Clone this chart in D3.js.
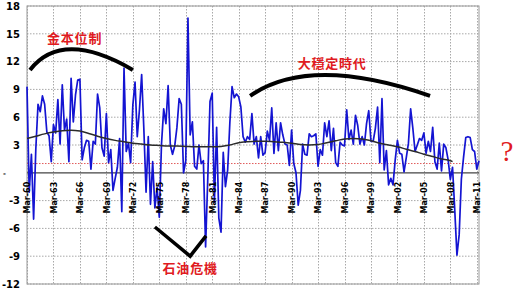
<!DOCTYPE html>
<html lang="zh-Hant">
<head>
<meta charset="utf-8">
<title>US GDP growth</title>
<script src="https://cdnjs.cloudflare.com/ajax/libs/d3/7.8.5/d3.min.js"></script>
<style>
body { margin: 0; background: #fff; }
</style>
</head>
<body>
<div id="chart"></div>
<script>
// quarterly growth, annualised, starting Mar-60
var startYear = 1960;
var growth = [
  9.3, -2.1, 2.0, -5.0,   2.6, 7.4, 6.6, 8.3,   7.4, 4.4, 4.0, 1.2,   5.2, 4.3, 7.9, 3.1,
  9.5, 4.6, 5.8, 1.2,     10.2, 5.5, 8.4, 10.0, 10.1, 1.4, 2.7, 3.5,  3.4, 0.4, 3.4, 3.1,
  8.5, 7.0, 2.7, 1.8,     6.4, 1.1, 2.5, -1.9,  -0.6, 0.6, 3.7, -4.2, 11.3, 2.3, 3.2, 1.1,
  7.3, 9.8, 3.9, 6.8,     10.6, 4.7, -2.1, 3.9, -3.4, 1.2, -3.8, -1.6, -4.8, 3.1, 6.9, 5.3,
  9.4, 3.0, 2.0, 2.9,     4.9, 8.0, 7.4, 0.0,   1.3, 16.7, 4.1, 5.5,  0.7, 0.4, 3.0, 1.0,
  1.3, -8.0, -0.5, 7.7,   8.6, -3.2, 4.9, -4.9, -6.4, 2.2, -1.5, 0.3, 5.4, 9.3, 8.1, 8.5,
  8.2, 7.1, 3.9, 3.3,     3.9, 3.6, 6.4, 3.1,   3.9, 1.6, 3.9, 1.9,   2.2, 4.5, 3.5, 7.0,
  2.1, 5.4, 2.4, 5.4,     4.1, 3.1, 3.0, 0.8,   4.6, 1.0, 0.0, -3.5,  -1.9, 3.1, 2.0, 1.9,
  4.2, 3.9, 4.0, 4.2,     0.7, 2.5, 1.9, 5.4,   3.9, 5.6, 2.4, 4.8,   1.1, 0.7, 3.3, 3.0,
  2.9, 6.8, 3.6, 4.6,     3.1, 6.2, 5.1, 3.1,   3.9, 3.0, 5.3, 6.7,   3.4, 3.4, 4.8, 7.1,
  1.1, 8.0, 0.3, 2.4,     -1.3, -0.6, -1.3, 1.4, 3.5, 2.1, 2.0, 0.1,  1.6, 3.2, 6.9, 4.8,
  2.3, 3.0, 3.7, 3.5,     4.3, 2.1, 3.4, 2.3,   4.9, 1.2, 0.4, 3.2,   0.2, 3.1, 2.7, 1.4,
  -0.7, 0.6, -4.0, -8.9,  -6.7, -0.7, 1.7, 3.8, 3.9, 3.8, 2.5, 2.3,   0.4, 1.3
];

// smoothed trend
var trendYears = [1960, 1961, 1962, 1963, 1964, 1965, 1966, 1967, 1968, 1969,
  1970, 1971, 1972, 1973, 1974, 1975, 1976, 1977, 1978, 1979,
  1980, 1981, 1982, 1983, 1984, 1985, 1986, 1987, 1988, 1989,
  1990, 1991, 1992, 1993, 1994, 1995, 1996, 1997, 1998, 1999,
  2000, 2001, 2002, 2003, 2004, 2005, 2006, 2007, 2008, 2008.25];
var trendValues = [3.7, 3.95, 4.2, 4.4, 4.55, 4.6, 4.5, 4.25, 3.95, 3.7,
  3.5, 3.35, 3.2, 3.1, 3.0, 2.95, 2.9, 2.9, 2.85, 2.8,
  2.8, 2.8, 2.85, 3.0, 3.25, 3.35, 3.4, 3.4, 3.35, 3.3,
  3.2, 3.05, 3.0, 3.05, 3.25, 3.45, 3.65, 3.7, 3.65, 3.45,
  3.2, 3.0, 2.8, 2.55, 2.3, 2.0, 1.75, 1.5, 1.3, 1.2];

var refLevel = 1;

var xTicks = [1960, 1963, 1966, 1969, 1972, 1975, 1978, 1981, 1984, 1987,
  1990, 1993, 1996, 1999, 2002, 2005, 2008, 2011];
var xTickLabels = ["Mar-60", "Mar-63", "Mar-66", "Mar-69", "Mar-72", "Mar-75", "Mar-78", "Mar-81", "Mar-84", "Mar-87",
  "Mar-90", "Mar-93", "Mar-96", "Mar-99", "Mar-02", "Mar-05", "Mar-08", "Mar-11"];
var yTicks = [18, 15, 12, 9, 6, 3, 0, -3, -6, -9, -12];

// annotations, in data units [year, value]
var goldArc = [[1960.34, 11.1], [1964.0, 15.55], [1972.0, 11.1]];
var moderationArc = [[1985.3, 8.3], [1992.1, 12.8], [2005.7, 8.3]];
var oilV = [[1974.5, -5.85], [1978.5, -9.0], [1980.3, -6.8]];
var notes = [
  {text: "金本位制", year: 1965.4, value: 14.5},
  {text: "大穩定時代", year: 1994.6, value: 11.8},
  {text: "石油危機", year: 1978.5, value: -10.3}
];

var width = 516, height = 291;
var svg = d3.select("#chart").append("svg").attr("width", width).attr("height", height);

var x = d3.scaleLinear().domain([1960, 2011.25]).range([27, 479]);
var y = d3.scaleLinear().domain([-12, 18]).range([284, 6]);

var series = growth.map(function(v, i) { return {t: startYear + i / 4, v: v}; });
var trend = trendYears.map(function(t, i) { return {t: t, v: trendValues[i]}; });

// grid
svg.selectAll("line.hgrid").data(yTicks.filter(function(d) { return d != 0; })).enter().append("line")
  .attr("class", "hgrid")
  .attr("x1", x(1960)).attr("x2", x(2011.25))
  .attr("y1", function(d) { return y(d); }).attr("y2", function(d) { return y(d); })
  .attr("stroke", "#a8a8a8").attr("stroke-width", 1).attr("stroke-dasharray", "1.5,1.5");
svg.selectAll("line.vgrid").data(xTicks).enter().append("line")
  .attr("class", "vgrid")
  .attr("x1", function(d) { return Math.round(x(d)) + 0.5; }).attr("x2", function(d) { return Math.round(x(d)) + 0.5; })
  .attr("y1", y(18)).attr("y2", y(-12))
  .attr("stroke", "#a8a8a8").attr("stroke-width", 1).attr("stroke-dasharray", "1.5,1.5");

// plot border
svg.append("rect")
  .attr("x", x(1960)).attr("y", y(18))
  .attr("width", x(2011.25) - x(1960)).attr("height", y(-12) - y(18))
  .attr("fill", "none").attr("stroke", "#9a9a9a").attr("stroke-width", 1);

// reference level
svg.append("line")
  .attr("x1", x(1960)).attr("x2", x(2011.25))
  .attr("y1", y(refLevel)).attr("y2", y(refLevel))
  .attr("stroke", "#e05a5a").attr("stroke-width", 1).attr("stroke-dasharray", "1.5,1.5");

// zero line
svg.append("line")
  .attr("x1", x(1960)).attr("x2", x(2011.25))
  .attr("y1", y(0)).attr("y2", y(0))
  .attr("stroke", "#444").attr("stroke-width", 1.2);

var line = d3.line().x(function(d) { return x(d.t); }).y(function(d) { return y(d.v); });

svg.append("path").datum(series)
  .attr("d", line)
  .attr("fill", "none").attr("stroke", "#1414d2").attr("stroke-width", 1.7).attr("stroke-linejoin", "round");

svg.append("path").datum(trend)
  .attr("d", line.curve(d3.curveMonotoneX))
  .attr("fill", "none").attr("stroke", "#2b2b2b").attr("stroke-width", 1.5);

// y axis
var yAxis = svg.append("g").attr("transform", "translate(" + x(1960) + ",0)")
  .call(d3.axisLeft(y).tickValues(yTicks).tickSize(0).tickPadding(7)
    .tickFormat(function(d) { return d == 0 ? "-" : d; }));
yAxis.select(".domain").remove();
yAxis.selectAll("text")
  .attr("font-family", "DejaVu Sans").attr("font-weight", "bold").attr("font-size", "10px").attr("fill", "#000");
yAxis.selectAll(".tick").filter(function(d) { return d == 0; }).select("text")
  .attr("font-size", "7px").attr("x", -24).attr("text-anchor", "start");

// x axis
var xAxis = svg.append("g").attr("transform", "translate(0," + y(0) + ")")
  .call(d3.axisBottom(x).tickValues(xTicks).tickSize(0)
    .tickFormat(function(d, i) { return xTickLabels[i]; }));
xAxis.select(".domain").remove();
xAxis.selectAll("text")
  .attr("transform", "rotate(-90)")
  .attr("text-anchor", "end")
  .attr("x", -9).attr("y", 0).attr("dy", "0.35em")
  .attr("font-family", "DejaVu Sans").attr("font-weight", "bold").attr("font-size", "8px").attr("fill", "#000");

// annotations
function quad(p) {
  var path = d3.path();
  path.moveTo(x(p[0][0]), y(p[0][1]));
  path.quadraticCurveTo(x(p[1][0]), y(p[1][1]), x(p[2][0]), y(p[2][1]));
  return path.toString();
}
svg.append("path").attr("d", quad(goldArc))
  .attr("fill", "none").attr("stroke", "#000").attr("stroke-width", 4);
svg.append("path").attr("d", quad(moderationArc))
  .attr("fill", "none").attr("stroke", "#000").attr("stroke-width", 4);
svg.append("path").datum(oilV)
  .attr("d", d3.line().x(function(d) { return x(d[0]); }).y(function(d) { return y(d[1]); }))
  .attr("fill", "none").attr("stroke", "#000").attr("stroke-width", 3.5);

svg.selectAll("text.note").data(notes).enter().append("text")
  .attr("class", "note")
  .attr("x", function(d) { return x(d.year); })
  .attr("y", function(d) { return y(d.value); })
  .attr("dy", "0.38em")
  .attr("text-anchor", "middle")
  .attr("font-family", "Noto Sans CJK TC")
  .attr("font-weight", "bold")
  .attr("font-size", "13px")
  .attr("letter-spacing", "0.8px")
  .attr("fill", "#e01b22")
  .text(function(d) { return d.text; });

svg.append("text")
  .attr("x", 507).attr("y", 161)
  .attr("text-anchor", "middle")
  .attr("font-family", "Liberation Serif")
  .attr("font-size", "29px")
  .attr("fill", "#e01b22")
  .text("?");
</script>
</body>
</html>
